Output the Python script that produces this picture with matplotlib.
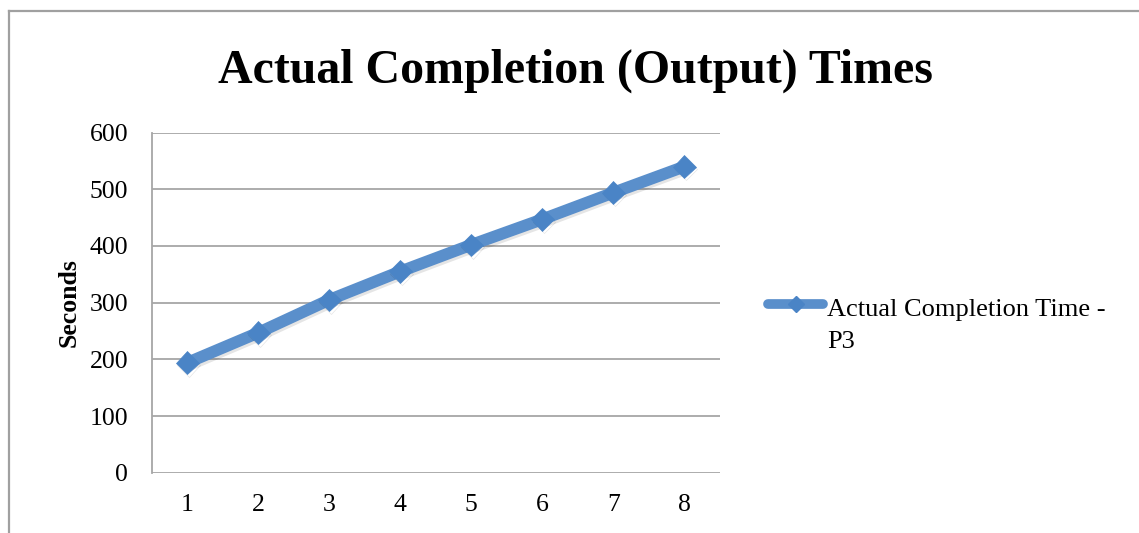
import matplotlib
matplotlib.use("Agg")
import matplotlib.pyplot as plt
from matplotlib.lines import Line2D
import matplotlib.patheffects as pe

# Data
runs = [1, 2, 3, 4, 5, 6, 7, 8]
completion_seconds = [194, 247, 305, 355, 402, 447, 494, 540]
y_ticks = [0, 100, 200, 300, 400, 500, 600]

title = "Actual Completion (Output) Times"
series_label = ["Actual Completion Time -", "P3"]
y_label = "Seconds"

SERIF = ["Liberation Serif", "DejaVu Serif"]
GRID = "#A6A6A6"
LINE_C = "#5A8FCB"
MARK_C = "#4A84C6"

W, H, DPI = 1139, 533, 100
fig = plt.figure(figsize=(W / DPI, H / DPI), dpi=DPI)
fig.patch.set_facecolor("white")


def fx(px):
    return px / W


def fy(py):
    return 1 - py / H


# Chart area border (left and top edges)
fig.add_artist(Line2D([fx(9), fx(9)], [0, fy(11)], transform=fig.transFigure,
                      color="#A0A0A0", lw=1.6))
fig.add_artist(Line2D([fx(9), 1], [fy(11), fy(11)], transform=fig.transFigure,
                      color="#A0A0A0", lw=1.6))

ax = fig.add_axes([fx(151.7), fy(472.8), fx(720) - fx(151.7), fy(132.5) - fy(472.8)])

shadow = [pe.SimpleLineShadow(offset=(1.0, -1.8), shadow_color="black", alpha=0.1),
          pe.Normal()]
ax.plot(runs, completion_seconds, color=LINE_C, lw=8.5, solid_capstyle="butt",
        marker="D", markersize=11.5, markerfacecolor=MARK_C, markeredgecolor=MARK_C,
        markeredgewidth=0.5, path_effects=shadow, zorder=3)

ax.set_xlim(0.5, 8.5)
ax.set_ylim(0, 600)
ax.set_yticks(y_ticks)
ax.set_xticks(runs)
ax.yaxis.grid(True, color=GRID, lw=1.3)
ax.set_axisbelow(True)
for s in ("top", "right", "bottom"):
    ax.spines[s].set_visible(False)
ax.spines["left"].set_color(GRID)
ax.spines["left"].set_linewidth(1.3)
ax.tick_params(axis="y", length=0, pad=17, labelsize=18.5)
ax.tick_params(axis="x", length=0, pad=15, labelsize=18.5)
for lab in ax.get_xticklabels() + ax.get_yticklabels():
    lab.set_family(SERIF)

ax.set_ylabel(y_label, family=SERIF, fontsize=18.5, fontweight="bold")
ax.yaxis.set_label_coords(-0.125, 0.5)

fig.text(fx(575.5), fy(83), title, family=SERIF, fontsize=34.5,
         fontweight="bold", ha="center", va="baseline")

# Legend entry: line sample with marker, label wrapped onto two lines
fig.add_artist(Line2D([fx(768), fx(796), fx(823)], [fy(304)] * 3,
                      transform=fig.transFigure, color=LINE_C, lw=7,
                      solid_capstyle="round", marker="D", markersize=8,
                      markevery=[1], markerfacecolor=MARK_C,
                      markeredgecolor=MARK_C))
fig.text(fx(827), fy(316), series_label[0], family=SERIF, fontsize=19,
         ha="left", va="baseline")
fig.text(fx(827), fy(348), series_label[1], family=SERIF, fontsize=19,
         ha="left", va="baseline")

fig.savefig("out.png", dpi=DPI, facecolor="white")
